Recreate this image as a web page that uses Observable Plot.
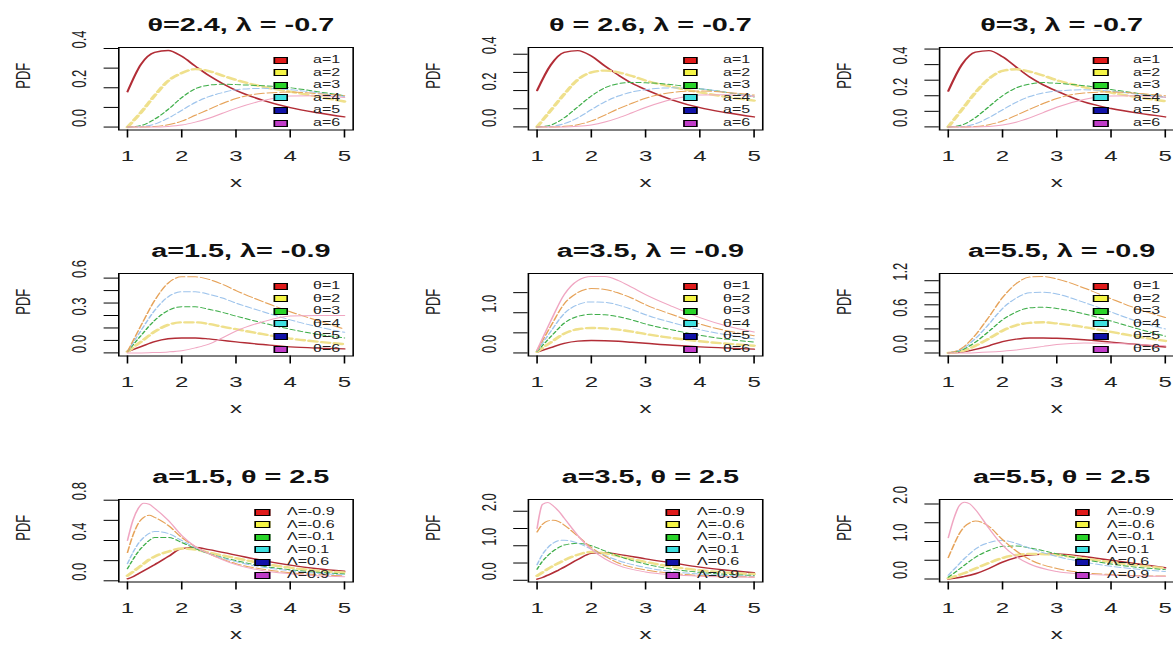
<!DOCTYPE html>
<html><head><meta charset="utf-8">
<script src="https://cdn.jsdelivr.net/npm/d3@7"></script>
<script src="https://cdn.jsdelivr.net/npm/@observablehq/plot@0.6"></script>
<style>
html,body{margin:0;padding:0;background:#fff;overflow:hidden;width:1173px;height:648px;}
#root{position:absolute;left:0;top:0;width:800px;height:648px;transform:scaleX(1.6);transform-origin:0 0;font-family:"Liberation Sans",Arial,sans-serif;}
.panel{position:absolute;}
.panel svg{max-width:none !important;}
.sw{position:absolute;box-sizing:border-box;border:1px solid #000;}
.lt{position:absolute;font-size:10px;line-height:10px;color:#222;white-space:nowrap;}
</style></head><body><div id="root"></div>
<script>
// ---------- data ----------
const xGridA = [1, 1.25, 1.5, 1.75, 2, 2.25, 2.5, 2.75, 3, 3.5, 4, 4.5, 5];
const xGridB = [1, 1.1, 1.2, 1.3, 1.4, 1.5, 1.75, 2, 2.25, 2.5, 3, 3.5, 4, 4.5, 5];
const xTicks = [1, 2, 3, 4, 5];

const titles = [
  "θ=2.4, λ = -0.7", "θ = 2.6, λ = -0.7", "θ=3, λ = -0.7",
  "a=1.5, λ= -0.9", "a=3.5, λ = -0.9", "a=5.5, λ = -0.9",
  "a=1.5, θ = 2.5", "a=3.5, θ = 2.5", "a=5.5, θ = 2.5"
];
const legendA = ["a=1", "a=2", "a=3", "a=4", "a=5", "a=6"];
const legendTheta = ["θ=1", "θ=2", "θ=3", "θ=4", "θ=5", "θ=6"];
const legendLambda = ["Λ=-0.9", "Λ=-0.6", "Λ=-0.1", "Λ=0.1", "Λ=0.6", "Λ=0.9"];

const yDomains = [
  [-0.015, 0.405], [-0.017, 0.437], [-0.02, 0.51],
  [-0.025, 0.637], [-0.076, 1.976], [-0.05, 1.32],
  [-0.012, 0.807], [-0.05, 2.34], [-0.08, 2.12]
];
const yTickSets = [
  [0, 0.1, 0.2, 0.3, 0.4], [0, 0.1, 0.2, 0.3, 0.4], [0, 0.1, 0.2, 0.3, 0.4, 0.5],
  [0, 0.1, 0.2, 0.3, 0.4, 0.5, 0.6], [0, 0.5, 1.0, 1.5], [0, 0.2, 0.4, 0.6, 0.8, 1.0, 1.2],
  [0, 0.2, 0.4, 0.6, 0.8], [0, 0.5, 1.0, 1.5, 2.0], [0, 0.5, 1.0, 1.5, 2.0]
];
const yLabelSets = [
  [0, 0.2, 0.4], [0, 0.2, 0.4], [0, 0.2, 0.4],
  [0, 0.3, 0.6], [0, 1.0], [0, 0.6, 1.2],
  [0, 0.4, 0.8], [0, 1.0, 2.0], [0, 1.0, 2.0]
];

// Row 1: theta fixed, a = 1..6 (x = xGridA)
const pdfTheta24 = [
  [0.18, 0.32, 0.38, 0.39, 0.36, 0.31, 0.262, 0.222, 0.187, 0.136, 0.099, 0.073, 0.052],
  [0.0, 0.075, 0.16, 0.235, 0.275, 0.295, 0.285, 0.262, 0.24, 0.205, 0.18, 0.155, 0.13],
  [0.0, 0.008, 0.04, 0.09, 0.15, 0.195, 0.213, 0.218, 0.216, 0.21, 0.2, 0.18, 0.16],
  [0.0, 0.002, 0.015, 0.045, 0.085, 0.125, 0.155, 0.175, 0.19, 0.197, 0.19, 0.175, 0.155],
  [0.0, 0.0, 0.003, 0.012, 0.03, 0.06, 0.09, 0.12, 0.145, 0.172, 0.178, 0.17, 0.16],
  [0.0, 0.0, 0.0, 0.003, 0.01, 0.025, 0.045, 0.07, 0.095, 0.135, 0.158, 0.16, 0.15]
];
const pdfTheta26 = [
  [0.20, 0.34, 0.41, 0.42, 0.39, 0.335, 0.285, 0.24, 0.205, 0.148, 0.106, 0.078, 0.055],
  [0.0, 0.09, 0.18, 0.26, 0.3, 0.31, 0.3, 0.28, 0.255, 0.22, 0.19, 0.165, 0.145],
  [0.0, 0.01, 0.05, 0.11, 0.17, 0.215, 0.238, 0.245, 0.243, 0.232, 0.21, 0.19, 0.165],
  [0.0, 0.002, 0.018, 0.05, 0.095, 0.138, 0.17, 0.192, 0.205, 0.215, 0.21, 0.19, 0.17],
  [0.0, 0.0, 0.003, 0.012, 0.033, 0.065, 0.1, 0.13, 0.158, 0.19, 0.198, 0.19, 0.175],
  [0.0, 0.0, 0.0, 0.003, 0.011, 0.027, 0.05, 0.078, 0.107, 0.152, 0.175, 0.177, 0.167]
];
const pdfTheta3 = [
  [0.23, 0.4, 0.48, 0.49, 0.45, 0.385, 0.32, 0.27, 0.23, 0.16, 0.118, 0.088, 0.064],
  [0.0, 0.11, 0.22, 0.31, 0.36, 0.37, 0.355, 0.33, 0.3, 0.255, 0.22, 0.19, 0.165],
  [0.0, 0.012, 0.06, 0.13, 0.2, 0.25, 0.275, 0.285, 0.28, 0.265, 0.24, 0.215, 0.19],
  [0.0, 0.002, 0.02, 0.06, 0.11, 0.158, 0.195, 0.218, 0.23, 0.238, 0.23, 0.21, 0.19],
  [0.0, 0.0, 0.003, 0.014, 0.038, 0.074, 0.113, 0.15, 0.182, 0.218, 0.225, 0.215, 0.2],
  [0.0, 0.0, 0.0, 0.003, 0.012, 0.03, 0.058, 0.092, 0.126, 0.176, 0.198, 0.2, 0.19]
];
// Row 2: a fixed, theta = 1..6 (x = xGridA)
const pdfA15 = [
  [0.01, 0.05, 0.09, 0.113, 0.12, 0.12, 0.112, 0.1, 0.088, 0.067, 0.048, 0.038, 0.032],
  [0.01, 0.09, 0.17, 0.225, 0.245, 0.245, 0.232, 0.21, 0.19, 0.15, 0.115, 0.09, 0.07],
  [0.01, 0.14, 0.26, 0.34, 0.37, 0.37, 0.35, 0.325, 0.295, 0.24, 0.19, 0.15, 0.12],
  [0.01, 0.18, 0.34, 0.45, 0.49, 0.49, 0.47, 0.44, 0.4, 0.33, 0.265, 0.21, 0.165],
  [0.01, 0.22, 0.42, 0.56, 0.61, 0.61, 0.59, 0.55, 0.5, 0.41, 0.33, 0.26, 0.19],
  [0.0, 0.0, 0.003, 0.008, 0.018, 0.04, 0.07, 0.12, 0.175, 0.25, 0.295, 0.3, 0.3]
];
const pdfA35 = [
  [0.02, 0.13, 0.24, 0.295, 0.31, 0.305, 0.29, 0.265, 0.24, 0.19, 0.15, 0.12, 0.095],
  [0.03, 0.26, 0.48, 0.59, 0.62, 0.61, 0.58, 0.53, 0.47, 0.37, 0.29, 0.23, 0.18],
  [0.04, 0.4, 0.74, 0.91, 0.96, 0.95, 0.9, 0.82, 0.72, 0.57, 0.44, 0.34, 0.27],
  [0.05, 0.53, 0.98, 1.2, 1.27, 1.26, 1.19, 1.08, 0.95, 0.75, 0.58, 0.45, 0.35],
  [0.06, 0.66, 1.22, 1.5, 1.6, 1.58, 1.49, 1.36, 1.2, 0.95, 0.72, 0.55, 0.43],
  [0.07, 0.79, 1.45, 1.8, 1.9, 1.9, 1.8, 1.63, 1.45, 1.15, 0.88, 0.67, 0.52]
];
const pdfA55 = [
  [0.0, 0.015, 0.06, 0.12, 0.19, 0.23, 0.25, 0.25, 0.245, 0.22, 0.18, 0.14, 0.1],
  [0.0, 0.03, 0.12, 0.24, 0.37, 0.46, 0.5, 0.51, 0.49, 0.43, 0.35, 0.27, 0.2],
  [0.0, 0.05, 0.18, 0.36, 0.55, 0.68, 0.75, 0.76, 0.74, 0.65, 0.53, 0.4, 0.28],
  [0.0, 0.065, 0.24, 0.48, 0.74, 0.91, 1.0, 1.01, 0.98, 0.84, 0.68, 0.52, 0.4],
  [0.0, 0.08, 0.3, 0.6, 0.92, 1.15, 1.26, 1.27, 1.23, 1.08, 0.9, 0.73, 0.59],
  [0.0, 0.0, 0.005, 0.015, 0.03, 0.05, 0.08, 0.11, 0.14, 0.165, 0.16, 0.14, 0.12]
];
// Row 3: a fixed, theta = 2.5, lambda varies (x = xGridB)
const pdfLamA15 = [
  [0.02, 0.04, 0.07, 0.1, 0.13, 0.16, 0.24, 0.32, 0.33, 0.31, 0.255, 0.2, 0.155, 0.12, 0.095],
  [0.05, 0.09, 0.13, 0.17, 0.21, 0.24, 0.29, 0.32, 0.31, 0.28, 0.225, 0.17, 0.13, 0.1, 0.082],
  [0.12, 0.21, 0.29, 0.35, 0.4, 0.43, 0.43, 0.38, 0.32, 0.27, 0.2, 0.145, 0.11, 0.085, 0.068],
  [0.17, 0.28, 0.37, 0.43, 0.47, 0.49, 0.47, 0.4, 0.33, 0.27, 0.19, 0.135, 0.1, 0.075, 0.06],
  [0.28, 0.45, 0.57, 0.63, 0.65, 0.63, 0.55, 0.43, 0.34, 0.27, 0.17, 0.115, 0.08, 0.06, 0.05],
  [0.4, 0.6, 0.72, 0.77, 0.76, 0.72, 0.6, 0.45, 0.34, 0.27, 0.16, 0.1, 0.07, 0.05, 0.04]
];
const pdfLamA35 = [
  [0.03, 0.08, 0.15, 0.22, 0.3, 0.38, 0.6, 0.78, 0.8, 0.75, 0.62, 0.5, 0.38, 0.29, 0.22],
  [0.13, 0.23, 0.33, 0.42, 0.5, 0.58, 0.74, 0.82, 0.78, 0.7, 0.53, 0.39, 0.29, 0.22, 0.18],
  [0.32, 0.55, 0.72, 0.85, 0.95, 1.02, 1.07, 1.0, 0.85, 0.7, 0.47, 0.32, 0.23, 0.17, 0.14],
  [0.45, 0.75, 0.95, 1.08, 1.15, 1.16, 1.08, 0.9, 0.72, 0.57, 0.37, 0.25, 0.18, 0.14, 0.115],
  [1.4, 1.62, 1.72, 1.74, 1.7, 1.6, 1.28, 0.95, 0.7, 0.5, 0.3, 0.2, 0.14, 0.11, 0.095],
  [1.5, 2.2, 2.25, 2.15, 2.0, 1.8, 1.3, 0.9, 0.62, 0.43, 0.24, 0.16, 0.12, 0.1, 0.09]
];
const pdfLamA55 = [
  [0.0, 0.02, 0.04, 0.07, 0.1, 0.14, 0.28, 0.45, 0.57, 0.64, 0.67, 0.6, 0.5, 0.4, 0.3],
  [0.02, 0.06, 0.11, 0.16, 0.22, 0.28, 0.43, 0.56, 0.64, 0.67, 0.64, 0.55, 0.45, 0.36, 0.29],
  [0.05, 0.15, 0.26, 0.37, 0.48, 0.58, 0.76, 0.87, 0.88, 0.83, 0.67, 0.52, 0.4, 0.31, 0.25],
  [0.1, 0.25, 0.4, 0.55, 0.68, 0.8, 0.97, 1.03, 0.95, 0.82, 0.6, 0.45, 0.34, 0.26, 0.2],
  [0.57, 0.9, 1.2, 1.4, 1.5, 1.55, 1.4, 1.05, 0.75, 0.52, 0.28, 0.17, 0.12, 0.09, 0.08],
  [1.1, 1.6, 1.95, 2.05, 2.0, 1.85, 1.35, 0.9, 0.6, 0.4, 0.2, 0.13, 0.1, 0.08, 0.07]
];

const panelSeries = [pdfTheta24, pdfTheta26, pdfTheta3, pdfA15, pdfA35, pdfA55, pdfLamA15, pdfLamA35, pdfLamA55];
const rowLegends = [legendA, legendTheta, legendLambda];

// ---------- styles ----------
const lineColors = ["#b22d36", "#efe08c", "#3fae4a", "#9ec4ec", "#e6a35a", "#f0a6c2"];
const lineWidths = [1.4, 2.4, 1, 1, 1, 1];
const lineDashes = [null, "5,3", "3,2", "4,2", "6,2", null];
const swatchColors = ["#e01b1b", "#f5f545", "#2ad42a", "#3ee0e0", "#1212a8", "#c03cc8"];

// ---------- layout (unscaled coordinates; root is stretched by 1.6 horizontally) ----------
const S = 1.6;
const cellW = 410 / S, cellH = 226;
const mL = 118 / S;
const frameW = 4.32 * (217 / 4) / S;
const mR = cellW - mL - frameW;
const mT = 47, frameH = 82.5, mB = cellH - mT - frameH;
const legY = [13, 25.6, 38.2, 50.8, 63.4, 76];

const root = document.getElementById("root");
const fmt = d3.format(".1f");

panelSeries.forEach((series, i) => {
  const col = i % 3, row = Math.floor(i / 3);
  const xs = row < 2 ? xGridA : xGridB;
  const marks = [];
  series.forEach((vals, k) => {
    const data = xs.map((x, j) => ({x, y: vals[j]}));
    const opts = {x: "x", y: "y", stroke: lineColors[k], strokeWidth: lineWidths[k], curve: "monotone-x"};
    if (lineDashes[k]) opts.strokeDasharray = lineDashes[k];
    marks.push(Plot.line(data, opts));
  });
  marks.push(Plot.frame({stroke: "black", strokeWidth: 1}));
  marks.push(Plot.axisX(xTicks, {tickSize: 8, tickPadding: 12, fontSize: 15, label: null, stroke: "black", fill: "#222"}));
  marks.push(Plot.axisY(yTickSets[i], {tickSize: 9, fill: "none", stroke: "black", label: null}));
  marks.push(Plot.text(yLabelSets[i], {y: d => d, text: d => fmt(d), frameAnchor: "left", dx: -20.5, rotate: -90, lineAnchor: "bottom", fontSize: 13, fill: "#222"}));
  marks.push(Plot.text([titles[i]], {text: d => d, frameAnchor: "top", dy: -29.5, dx: 3, fontSize: 18, fontWeight: "bold", fill: "#111"}));
  marks.push(Plot.text(["PDF"], {text: d => d, frameAnchor: "left", dx: -59.4, rotate: -90, fontSize: 13, fill: "#222"}));
  marks.push(Plot.text(["x"], {text: d => d, frameAnchor: "bottom", dy: 56.5, fontSize: 15, fill: "#222"}));

  const svg = Plot.plot({
    width: cellW, height: cellH,
    marginLeft: mL, marginRight: mR, marginTop: mT, marginBottom: mB,
    x: {domain: [0.84, 5.16]},
    y: {domain: yDomains[i]},
    style: {fontFamily: '"Liberation Sans", Arial, sans-serif', color: "black", background: "transparent", overflow: "visible", maxWidth: "none"},
    marks
  });
  const wrap = document.createElement("div");
  wrap.className = "panel";
  wrap.style.left = (col * cellW) + "px";
  wrap.style.top = (row * cellH) + "px";
  wrap.style.width = cellW + "px";
  wrap.appendChild(svg);
  root.appendChild(wrap);

  // legend
  const labels = rowLegends[row];
  const swX = row < 2 ? 96.9 : 85.6;
  const txX = row < 2 ? 121.9 : 105.6;
  labels.forEach((lab, k) => {
    const cy = row * cellH + mT + legY[k];
    const sw = document.createElement("div");
    sw.className = "sw";
    sw.style.left = (col * cellW + mL + swX) + "px";
    sw.style.top = (cy - 3.5) + "px";
    sw.style.width = "9.4px";
    sw.style.height = "7px";
    sw.style.background = swatchColors[k];
    root.appendChild(sw);
    const t = document.createElement("div");
    t.className = "lt";
    t.textContent = lab;
    t.style.left = (col * cellW + mL + txX) + "px";
    t.style.top = (cy - 5) + "px";
    root.appendChild(t);
  });
});
</script></body></html>
